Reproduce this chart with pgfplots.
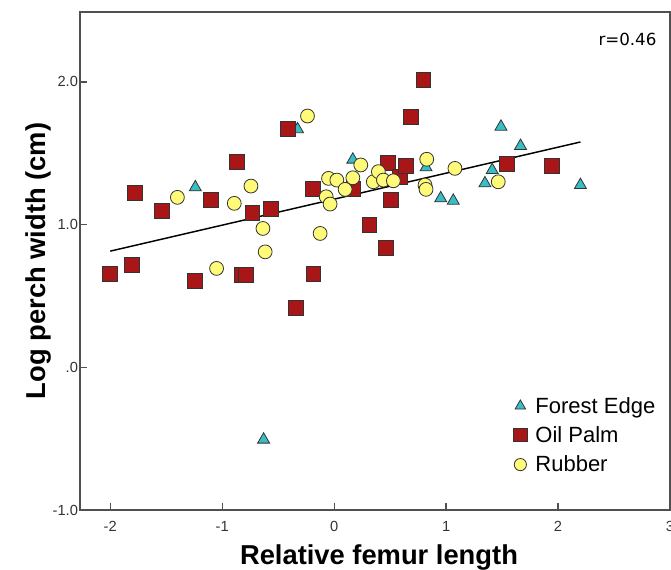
\documentclass[border=0pt]{standalone}
\usepackage{pgfplots}
\pgfplotsset{compat=1.18}
\usepackage{fontspec}
\setmainfont{Liberation Sans}
\newfontfamily\rfont{DejaVu Sans}
\definecolor{fe}{RGB}{56,190,196}
\definecolor{op}{RGB}{168,22,24}
\definecolor{rb}{RGB}{255,250,120}
\definecolor{axc}{RGB}{80,80,80}
\begin{document}
\begin{tikzpicture}
\useasboundingbox (-60pt,-45pt) rectangle (443.25pt,382.5pt);
\begin{axis}[
  at={(0,0)}, anchor=south west, scale only axis,
  width=442.5pt, height=373.5pt,
  xmin=-2.27, xmax=3.0, ymin=-1.0, ymax=2.49,
  xtick={-2,-1,0,1,2,3},
  ytick={-1,0,1,2}, yticklabels={-1.0,.0,1.0,2.0},
  tick pos=left, tick align=inside,
  major tick length=5pt,
  axis line style={axc, line width=0.9pt},
  tick style={axc, line width=0.9pt},
  every tick label/.append style={font=\fontsize{11pt}{13pt}\selectfont, text=black!80},
  xticklabel style={yshift=-5pt},
  yticklabel style={xshift=2pt},
  /pgf/number format/assume math mode=true,
  xlabel={\bfseries Relative femur length},
  ylabel={\bfseries Log perch width (cm)},
  xlabel style={font=\fontsize{20.5pt}{24pt}\selectfont, yshift=-3pt, xshift=3pt},
  ylabel style={font=\fontsize{20.5pt}{24pt}\selectfont, yshift=-6pt},
  legend style={at={(0.728,0.238)}, anchor=north west, draw=none, fill=none,
    font=\fontsize{16.5pt}{19pt}\selectfont, row sep=4.5pt,
    legend cell align=left},
  legend image code/.code={\draw[#1, every mark/.append style={scale=0.88}] plot coordinates {(0.1cm,0cm)};\path (0.42cm,0cm);},
]
\addplot[only marks, mark=triangle*, mark size=5.2pt,
  mark options={fill=fe, draw=black!80, line width=0.6pt}]
  coordinates {
  (-1.24,1.261) (-0.327,1.668) (0.167,1.455) (0.821,1.401) (0.952,1.184)
  (1.064,1.167) (1.49,1.686) (1.665,1.551) (1.412,1.382) (1.347,1.289)
  (2.20,1.277) (-0.63,-0.507)
  };
\addlegendentry{Forest Edge}
\addplot[only marks, mark=square*, mark size=5.6pt,
  mark options={fill=op, draw=black!80, line width=0.6pt}]
  coordinates {
  (-2.0,0.653) (-1.81,0.716) (-1.78,1.221) (-1.54,1.097) (-1.24,0.604)
  (-1.10,1.172) (-0.868,1.438) (-0.82,0.646) (-0.79,0.646) (-0.73,1.083)
  (-0.562,1.107) (-0.417,1.668) (-0.342,0.419) (-0.19,1.247) (-0.185,0.657)
  (0.172,1.247) (0.315,0.996) (0.464,0.840) (0.484,1.434) (0.506,1.172)
  (0.589,1.336) (0.642,1.411) (0.684,1.757) (0.797,2.014) (1.54,1.425)
  (1.942,1.411)
  };
\addlegendentry{Oil Palm}
\addplot[only marks, mark=*, mark size=5.2pt,
  mark options={fill=rb, draw=black!80, line width=0.6pt}]
  coordinates {
  (-1.40,1.191) (-1.05,0.693) (-0.892,1.149) (-0.743,1.270) (-0.636,0.973)
  (-0.616,0.809) (-0.238,1.761) (-0.125,0.938) (-0.071,1.195) (-0.036,1.144)
  (-0.05,1.324) (0.024,1.312) (0.098,1.247) (0.167,1.328) (0.238,1.418)
  (0.35,1.30) (0.395,1.371) (0.44,1.312) (0.529,1.307) (0.827,1.458)
  (0.812,1.277) (0.821,1.247) (1.079,1.394) (1.466,1.30)
  };
\addlegendentry{Rubber}
\addplot[black, line width=1.1pt, forget plot] coordinates {(-2.0,0.814) (2.2,1.579)};
\node[anchor=east, font=\rfont\fontsize{12.5pt}{14pt}\selectfont] at (rel axis cs:0.985,0.945) {r=0.46};
\end{axis}
\end{tikzpicture}
\end{document}
